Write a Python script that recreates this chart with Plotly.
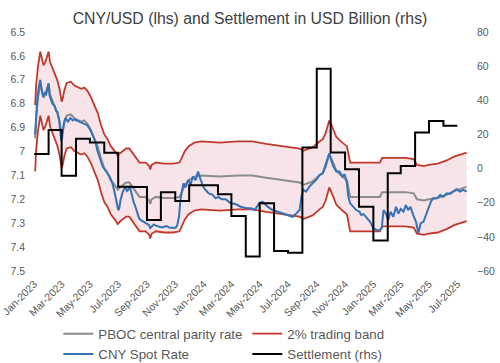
import plotly.graph_objects as go
import pandas as pd

# ---------------- data ----------------
spot_dates = [
    "2023-01-03","2023-01-05","2023-01-08","2023-01-11","2023-01-14","2023-01-17","2023-01-20","2023-01-24",
    "2023-01-27","2023-01-30","2023-02-01","2023-02-03","2023-02-06","2023-02-09","2023-02-14","2023-02-17",
    "2023-02-20","2023-02-24","2023-02-28","2023-03-02","2023-03-04","2023-03-06","2023-03-09","2023-03-12",
    "2023-03-15","2023-03-20","2023-03-25","2023-03-28","2023-04-03","2023-04-07","2023-04-11","2023-04-15",
    "2023-04-19","2023-04-25","2023-05-02","2023-05-05","2023-05-09","2023-05-13","2023-05-17","2023-05-21",
    "2023-05-24","2023-05-28","2023-05-31","2023-06-04","2023-06-07","2023-06-11","2023-06-14","2023-06-18",
    "2023-06-22","2023-06-27","2023-07-01","2023-07-03","2023-07-06","2023-07-11","2023-07-14","2023-07-17",
    "2023-07-20","2023-07-23","2023-07-26","2023-07-31","2023-08-03","2023-08-07","2023-08-11","2023-08-15",
    "2023-08-19","2023-08-25","2023-08-30","2023-09-05","2023-09-08","2023-09-12","2023-09-16","2023-09-20",
    "2023-09-27","2023-10-03","2023-10-08","2023-10-14","2023-10-19","2023-10-24","2023-10-29","2023-11-02",
    "2023-11-05","2023-11-09","2023-11-12","2023-11-16","2023-11-19","2023-11-23","2023-11-29","2023-12-04",
    "2023-12-09","2023-12-15","2023-12-20","2023-12-26","2023-12-31","2024-01-05","2024-01-12","2024-01-20",
    "2024-01-27","2024-02-02","2024-02-09","2024-02-18","2024-02-28","2024-03-10","2024-03-21","2024-04-01",
    "2024-04-15","2024-04-20","2024-04-30","2024-05-07","2024-05-18","2024-05-29","2024-06-09","2024-06-20",
    "2024-07-01","2024-07-11","2024-07-19","2024-07-26","2024-07-30","2024-08-03","2024-08-09","2024-08-16",
    "2024-08-23","2024-08-31","2024-09-07","2024-09-14","2024-09-20","2024-09-25","2024-09-28","2024-10-02",
    "2024-10-07","2024-10-13","2024-10-20","2024-10-26","2024-10-31","2024-11-05","2024-11-08","2024-11-12",
    "2024-11-18","2024-11-25","2024-12-02","2024-12-06","2024-12-11","2024-12-18","2024-12-25","2025-01-01",
    "2025-01-08","2025-01-15","2025-01-19","2025-01-23","2025-01-28","2025-02-02","2025-02-07","2025-02-13",
    "2025-02-19","2025-02-24","2025-03-01","2025-03-07","2025-03-12","2025-03-17","2025-03-22","2025-03-28",
    "2025-04-03","2025-04-08","2025-04-13","2025-04-19","2025-04-24","2025-04-30","2025-05-05","2025-05-10",
    "2025-05-18","2025-05-25","2025-06-01","2025-06-08","2025-06-15","2025-06-22","2025-06-29","2025-07-07",
    "2025-07-14","2025-07-21",
]
spot_vals = [
    6.93, 6.85, 6.77, 6.73, 6.70, 6.74, 6.77, 6.755,
    6.76, 6.73, 6.715, 6.765, 6.78, 6.80, 6.81, 6.83,
    6.835, 6.87, 6.955, 6.945, 6.91, 6.88, 6.86, 6.87,
    6.875, 6.86, 6.87, 6.865, 6.87, 6.875, 6.88, 6.88,
    6.885, 6.89, 6.91, 6.925, 6.945, 6.96, 6.995, 7.02,
    7.04, 7.06, 7.07, 7.08, 7.09, 7.10, 7.112, 7.13,
    7.16, 7.217, 7.245, 7.24, 7.203, 7.168, 7.16, 7.147,
    7.165, 7.16, 7.145, 7.19, 7.21, 7.23, 7.26, 7.28,
    7.287, 7.294, 7.30, 7.307, 7.32, 7.31, 7.305, 7.31,
    7.314, 7.318, 7.315, 7.312, 7.318, 7.32, 7.32, 7.318,
    7.31, 7.273, 7.203, 7.16, 7.133, 7.15, 7.119, 7.14,
    7.105, 7.12, 7.084, 7.12, 7.147, 7.16, 7.175, 7.18,
    7.196, 7.19, 7.20, 7.20, 7.217, 7.22, 7.231, 7.236,
    7.238, 7.245, 7.217, 7.21, 7.231, 7.245, 7.252, 7.259,
    7.266, 7.273, 7.259, 7.245, 7.189, 7.16, 7.168, 7.147,
    7.133, 7.119, 7.098, 7.091, 7.056, 7.028, 7.008, 7.036,
    7.063, 7.084, 7.084, 7.105, 7.095, 7.133, 7.189, 7.217,
    7.231, 7.245, 7.252, 7.266, 7.262, 7.28, 7.294, 7.321,
    7.328, 7.33, 7.32, 7.245, 7.26, 7.287, 7.252, 7.273,
    7.231, 7.26, 7.24, 7.252, 7.224, 7.245, 7.231, 7.266,
    7.294, 7.342, 7.30, 7.294, 7.266, 7.231, 7.21, 7.196,
    7.196, 7.182, 7.189, 7.175, 7.178, 7.168, 7.158, 7.168,
    7.161, 7.168,
]

parity_dates = [
    "2023-01-03","2023-01-05","2023-01-09","2023-01-14","2023-01-18","2023-01-21","2023-01-25","2023-01-30",
    "2023-02-01","2023-02-04","2023-02-10","2023-02-15","2023-02-20","2023-02-25","2023-03-01","2023-03-03",
    "2023-03-07","2023-03-12","2023-03-21","2023-03-28","2023-04-04","2023-04-12","2023-04-19","2023-04-26",
    "2023-05-03","2023-05-10","2023-05-18","2023-05-25","2023-06-01","2023-06-08","2023-06-15","2023-06-23",
    "2023-06-30","2023-07-05","2023-07-12","2023-07-18","2023-07-25","2023-08-01","2023-08-08","2023-08-16",
    "2023-08-29","2023-09-06","2023-09-08","2023-09-11","2023-09-20","2023-10-08","2023-10-28","2023-11-10",
    "2023-11-15","2023-11-22","2023-11-30","2023-12-12","2023-12-27","2024-02-05","2024-03-16","2024-04-15",
    "2024-05-15","2024-06-24","2024-07-26","2024-08-03","2024-08-23","2024-09-07","2024-09-14","2024-09-20",
    "2024-09-28","2024-10-07","2024-10-13","2024-10-26","2024-11-05","2024-11-12","2024-12-01","2025-01-15",
    "2025-01-20","2025-03-11","2025-03-29","2025-04-05","2025-04-20","2025-04-30","2025-05-20","2025-06-09",
    "2025-06-24","2025-07-09","2025-07-21",
]
parity_vals = [
    6.945, 6.86, 6.78, 6.716, 6.75, 6.775, 6.76, 6.725,
    6.716, 6.76, 6.79, 6.815, 6.84, 6.88, 6.93, 6.92,
    6.88, 6.85, 6.845, 6.86, 6.866, 6.875, 6.87, 6.885,
    6.91, 6.94, 6.98, 7.03, 7.07, 7.09, 7.12, 7.14,
    7.16, 7.15, 7.14, 7.13, 7.13, 7.15, 7.17, 7.19,
    7.19, 7.205, 7.22, 7.20, 7.19, 7.195, 7.195, 7.19,
    7.17, 7.14, 7.12, 7.105, 7.10, 7.105, 7.10, 7.10,
    7.11, 7.12, 7.13, 7.14, 7.125, 7.10, 7.09, 7.065,
    7.01, 7.05, 7.08, 7.105, 7.12, 7.19, 7.19, 7.19,
    7.17, 7.17, 7.175, 7.20, 7.205, 7.20, 7.195, 7.18,
    7.165, 7.155, 7.148,
]
band_pct = 0.02

settle_months = [d.strftime("%Y-%m-%d") for d in pd.date_range("2023-01-01", "2025-06-01", freq="MS")]
settle_vals = [
    8.6, 22.6, -4.2, 17.5, 15.2, 9.3, -10.6, -10.8, -30.1, -13.9, -19.0, -9.8,
    -9.8, -15.0, -27.8, -51.5, -20.3, -48.3, -49.3, 12.3, 58.5, 9.4, -0.4, -22.3,
    -42.2, -2.7, 1.5, 21.1, 27.9, 25.1,
]
settle_end = "2025-07-01"

# ---------------- derived series ----------------
band_lo = [p * (1 - band_pct) for p in parity_vals]
band_hi = [p * (1 + band_pct) for p in parity_vals]
settle_x = settle_months + [settle_end]
settle_y = settle_vals + [settle_vals[-1]]

RED = "#C0392B"
BLUE = "#3572B5"
GRAY = "#8C8C8C"
PINK = "#F6E4E9"
FONT = "Liberation Sans"
TXT = "#595959"

fig = go.Figure()
fig.add_trace(go.Scatter(x=parity_dates, y=band_lo, mode="lines", name="2% trading band",
                         legendrank=2, line=dict(color=RED, width=1.8)))
fig.add_trace(go.Scatter(x=parity_dates, y=band_hi, mode="lines", name="2% trading band",
                         showlegend=False, fill="tonexty", fillcolor=PINK,
                         line=dict(color=RED, width=1.8)))
fig.add_trace(go.Scatter(x=parity_dates, y=parity_vals, mode="lines", name="PBOC central parity rate",
                         legendrank=1, line=dict(color=GRAY, width=2)))
fig.add_trace(go.Scatter(x=spot_dates, y=spot_vals, mode="lines", name="CNY Spot Rate",
                         legendrank=3, line=dict(color=BLUE, width=2)))
fig.add_trace(go.Scatter(x=settle_x, y=settle_y, mode="lines", name="Settlement (rhs)", yaxis="y2",
                         legendrank=4, line=dict(color="black", width=2, shape="hv")))

fig.update_layout(
    width=500, height=363,
    margin=dict(l=34, r=32, t=32, b=92, autoexpand=False),
    paper_bgcolor="white", plot_bgcolor="white",
    font=dict(family=FONT, color=TXT, size=10.5),
    title=dict(text="CNY/USD (lhs) and Settlement in USD Billion (rhs)", x=0.5, xanchor="center",
               y=0.949, yanchor="middle", font=dict(family=FONT, size=15.8, color="#404040")),
    xaxis=dict(type="date", range=["2022-12-31 12:00", "2025-07-24"], tick0="2023-01-01", dtick="M2",
               tickformat="%b-%Y", tickangle=-45, showgrid=False, zeroline=False, showline=False,
               ticks="", automargin=False, ticklabelstandoff=4, ticklabeloverflow="allow",
               tickfont=dict(size=10.5, color=TXT)),
    yaxis=dict(range=[7.5, 6.5], dtick=0.1, tick0=6.5, showgrid=False, zeroline=False, showline=False,
               ticks="", automargin=False, ticklabelstandoff=8, tickfont=dict(size=10.5, color=TXT)),
    yaxis2=dict(range=[-60, 80], dtick=20, tick0=-60, overlaying="y", side="right", showgrid=False,
                zeroline=False, showline=False, ticks="", automargin=False, ticklabelstandoff=8,
                tickfont=dict(size=10.5, color=TXT)),
    legend=dict(orientation="h", x=0.056, xanchor="left", y=-0.199, yanchor="top",
                traceorder="normal", font=dict(family=FONT, size=13.3, color=TXT), entrywidth=144,
                bgcolor="rgba(0,0,0,0)"),
    showlegend=True,
)

fig.write_html("out.html", config={"displayModeBar": False},
               post_script="document.body.style.margin='0px';document.body.style.overflow='hidden';")
